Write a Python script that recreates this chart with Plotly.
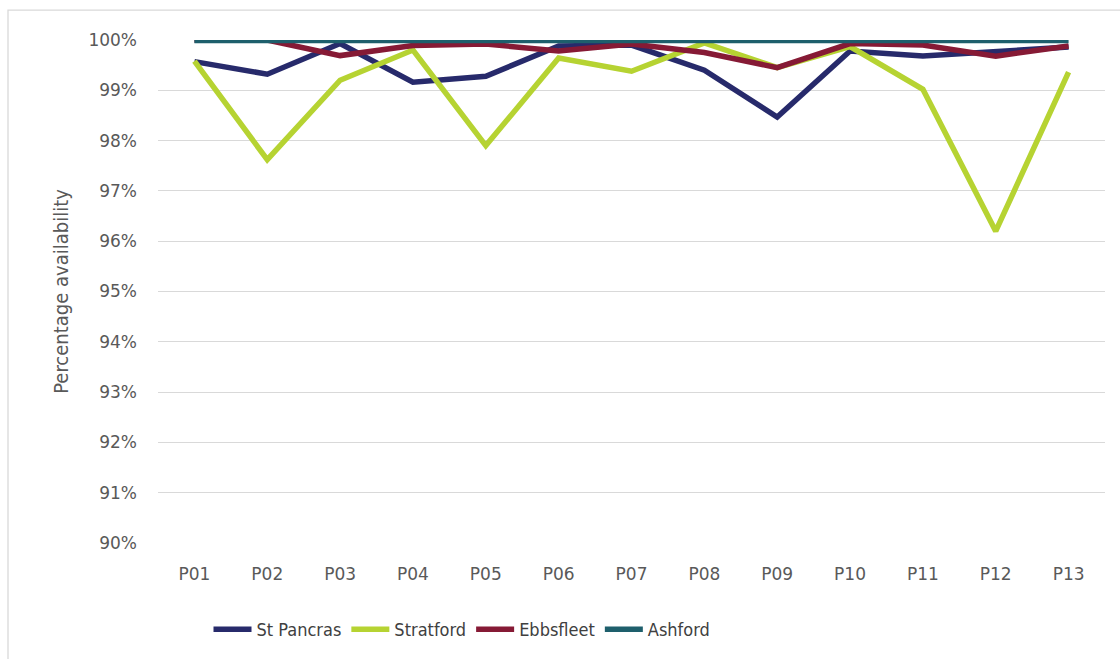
import plotly.graph_objects as go

periods = ["P01", "P02", "P03", "P04", "P05", "P06", "P07", "P08", "P09", "P10", "P11", "P12", "P13"]
st_pancras = [99.57, 99.32, 99.93, 99.16, 99.28, 99.88, 99.90, 99.40, 98.47, 99.78, 99.68, 99.76, 99.86]
stratford = [99.58, 97.62, 99.20, 99.80, 97.90, 99.64, 99.38, 99.94, 99.45, 99.87, 99.02, 96.20, 99.36]
ebbsfleet = [100.0, 100.0, 99.69, 99.89, 99.92, 99.78, 99.92, 99.75, 99.45, 99.93, 99.90, 99.68, 99.88]
ashford = [99.99, 99.99, 99.99, 99.99, 99.99, 99.99, 99.99, 99.99, 99.99, 99.99, 99.99, 99.99, 99.99]
y_ticks = [90, 91, 92, 93, 94, 95, 96, 97, 98, 99, 100]
y_tick_labels = [f"{v}%" for v in y_ticks]

series = [
    ("St Pancras", st_pancras, "#272A6B"),
    ("Stratford", stratford, "#B6D332"),
    ("Ebbsfleet", ebbsfleet, "#861A35"),
    ("Ashford", ashford, "#1E5F6C"),
]

NARROW = "Liberation Sans Narrow, Arial Narrow, DejaVu Sans Condensed, sans-serif"

fig = go.Figure()
for name, vals, color in series:
    fig.add_trace(go.Scatter(
        x=periods, y=vals, name=name, mode="lines",
        line=dict(color=color, width=5.5),
        cliponaxis=False,
    ))

L, R, T, B = 158, 15, 39.5, 115
pw = 1120 - L - R
ph = 659 - T - B

fig.update_layout(
    width=1120, height=659,
    margin=dict(l=L, r=R, t=T, b=B),
    paper_bgcolor="white", plot_bgcolor="white",
    showlegend=True,
    legend=dict(
        orientation="h", x=(462 - L) / pw, xanchor="center", y=-0.133, yanchor="top",
        font=dict(family=NARROW, size=18, color="#404040"),
        itemwidth=38, traceorder="normal",
    ),
    xaxis=dict(
        type="category", showgrid=False, showline=False, zeroline=False,
        ticks="", tickfont=dict(family="DejaVu Sans, sans-serif", size=17, color="#595959"),
        ticklabelstandoff=19,
        range=[-0.5, 12.5],
    ),
    yaxis=dict(
        range=[90, 100], tickvals=y_ticks, ticktext=y_tick_labels,
        showgrid=True, gridcolor="#D9D9D9", gridwidth=1.3,
        zeroline=False, showline=False, ticks="",
        tickfont=dict(family="DejaVu Sans, sans-serif", size=17, color="#595959"),
        ticklabelstandoff=20,
        title=dict(text="Percentage availability",
                   font=dict(family=NARROW, size=20, color="#595959"),
                   standoff=14),
    ),
    shapes=[dict(
        type="rect", xref="paper", yref="paper",
        x0=(8 - L) / pw, x1=2.0, y0=-2.0, y1=(659 - B - 9.5) / ph,
        line=dict(color="#D9D9D9", width=1.3), fillcolor="rgba(0,0,0,0)", layer="below",
    )],
)

fig.write_html("out.html")
